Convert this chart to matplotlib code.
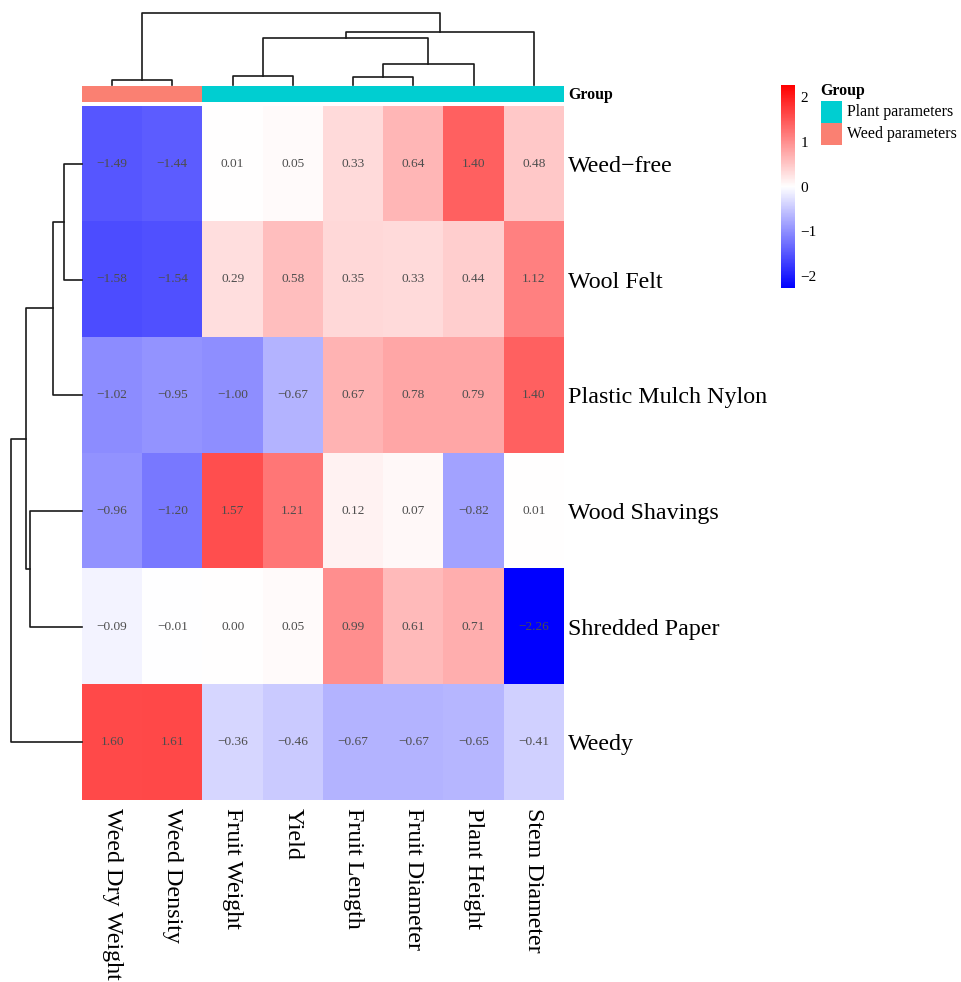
import numpy as np
import matplotlib
matplotlib.use("Agg")
import matplotlib.pyplot as plt
from matplotlib.colors import LinearSegmentedColormap, ListedColormap
from matplotlib.patches import Rectangle

plt.rcParams["font.family"] = ["Liberation Serif", "DejaVu Serif"]

# data (rows/cols in displayed order)
treatments = ["Weed\u2212free", "Wool Felt", "Plastic Mulch Nylon",
              "Wood Shavings", "Shredded Paper", "Weedy"]
traits = ["Weed Dry Weight", "Weed Density", "Fruit Weight", "Yield",
          "Fruit Length", "Fruit Diameter", "Plant Height", "Stem Diameter"]
trait_group = ["Weed", "Weed", "Plant", "Plant", "Plant", "Plant", "Plant", "Plant"]

weed_free = [-1.49, -1.44, 0.01, 0.05, 0.33, 0.64, 1.40, 0.48]
wool_felt = [-1.58, -1.54, 0.29, 0.58, 0.35, 0.33, 0.44, 1.12]
plastic_mulch = [-1.02, -0.95, -1.00, -0.67, 0.67, 0.78, 0.79, 1.40]
wood_shavings = [-0.96, -1.20, 1.57, 1.21, 0.12, 0.07, -0.82, 0.01]
shredded_paper = [-0.09, -0.01, 0.00, 0.05, 0.99, 0.61, 0.71, -2.26]
weedy = [1.60, 1.61, -0.36, -0.46, -0.67, -0.67, -0.65, -0.41]

# dendrogram merges: (left id, right id, height); ids >= n are earlier merges
col_merges = [(0, 1, 5.0), (2, 3, 9.3), (4, 5, 8.3), (10, 6, 21.7),
              (9, 11, 47.7), (12, 7, 53.3), (8, 13, 72.7)]
row_merges = [(0, 1, 18.0), (6, 2, 29.0), (3, 4, 52.0), (7, 8, 56.0), (9, 5, 71.0)]

values = np.array([weed_free, wool_felt, plastic_mulch,
                   wood_shavings, shredded_paper, weedy])

W, H = 961, 982
fig = plt.figure(figsize=(W / 100, H / 100), dpi=100)


def box(x0, y0, x1, y1):
    return [x0 / W, 1 - y1 / H, (x1 - x0) / W, (y1 - y0) / H]


def draw_dendro(ax, merges, n, vertical=True):
    pos = {i: i + 0.5 for i in range(n)}
    hgt = {i: 0.0 for i in range(n)}
    for k, (a, b, h) in enumerate(merges):
        xa, xb = pos[a], pos[b]
        xs = [xa, xa, xb, xb]
        ys = [hgt[a], h, h, hgt[b]]
        if vertical:
            ax.plot(xs, ys, color="#1a1a1a", lw=1.2, clip_on=False)
        else:
            ax.plot(ys, xs, color="#1a1a1a", lw=1.2, clip_on=False)
        pos[n + k] = (xa + xb) / 2
        hgt[n + k] = h
    return max(m[2] for m in merges)


cmap = LinearSegmentedColormap.from_list("bwr2", ["#0000FF", "#FFFFFF", "#FF0000"])
vlim = 2.26

# heatmap
ax = fig.add_axes(box(82, 106, 564, 800))
im = ax.imshow(values, cmap=cmap, vmin=-vlim, vmax=vlim, aspect="auto",
               extent=(0, len(traits), len(treatments), 0), interpolation="nearest")
for i in range(len(treatments)):
    for j in range(len(traits)):
        s = f"{values[i, j]:.2f}".replace("-", "\u2212")
        ax.text(j + 0.5, i + 0.5, s, ha="center", va="center",
                fontsize=9.6, color="#4d4d4d")
ax.set_xticks(np.arange(len(traits)) + 0.5)
ax.set_xticklabels(traits, rotation=270, fontsize=17.3, va="top", ha="center")
ax.set_yticks(np.arange(len(treatments)) + 0.5)
ax.set_yticklabels(treatments, fontsize=17.3)
ax.yaxis.tick_right()
ax.tick_params(axis="x", length=0, pad=6)
ax.tick_params(axis="y", length=0, pad=3)
for sp in ax.spines.values():
    sp.set_visible(False)

# group annotation bar
group_colors = {"Plant": "#00CED1", "Weed": "#FA8072"}
gax = fig.add_axes(box(82, 86, 564, 102))
gcodes = np.array([[0 if g == "Weed" else 1 for g in trait_group]])
gax.imshow(gcodes, cmap=ListedColormap([group_colors["Weed"], group_colors["Plant"]]),
           aspect="auto", extent=(0, len(traits), 1, 0), vmin=0, vmax=1)
gax.set_axis_off()
fig.text(568 / W, 1 - 95 / H, "Group", fontsize=11.4, fontweight="bold",
         ha="left", va="center")

# column dendrogram
cax_d = fig.add_axes(box(82, 13, 564, 85))
hmax = draw_dendro(cax_d, col_merges, len(traits), vertical=True)
cax_d.set_xlim(0, len(traits))
cax_d.set_ylim(0, hmax)
cax_d.set_axis_off()

# row dendrogram
rax_d = fig.add_axes(box(11, 106, 82, 800))
hmax = draw_dendro(rax_d, row_merges, len(treatments), vertical=False)
rax_d.set_ylim(len(treatments), 0)
rax_d.set_xlim(hmax, 0)
rax_d.set_axis_off()

# colorbar
cbax = fig.add_axes(box(781, 85, 795, 288))
cb = fig.colorbar(im, cax=cbax, ticks=[-2, -1, 0, 1, 2])
cb.outline.set_visible(False)
cb.ax.set_yticklabels(["\u22122", "\u22121", "0", "1", "2"])
cb.ax.tick_params(length=0, labelsize=11, pad=4)

# group legend
fig.text(820 / W, 1 - 91 / H, "Group", fontsize=11.4, fontweight="bold",
         ha="left", va="center")
legend_items = [("Plant parameters", group_colors["Plant"]),
                ("Weed parameters", group_colors["Weed"])]
for k, (lab, col) in enumerate(legend_items):
    y0 = 101 + k * 22
    fig.add_artist(Rectangle((821 / W, 1 - (y0 + 22) / H), 21 / W, 22 / H,
                             transform=fig.transFigure, facecolor=col, edgecolor="none"))
    fig.text(847 / W, 1 - (y0 + 11) / H, lab, fontsize=11.4, ha="left", va="center")

fig.savefig("out.png", dpi=100)
